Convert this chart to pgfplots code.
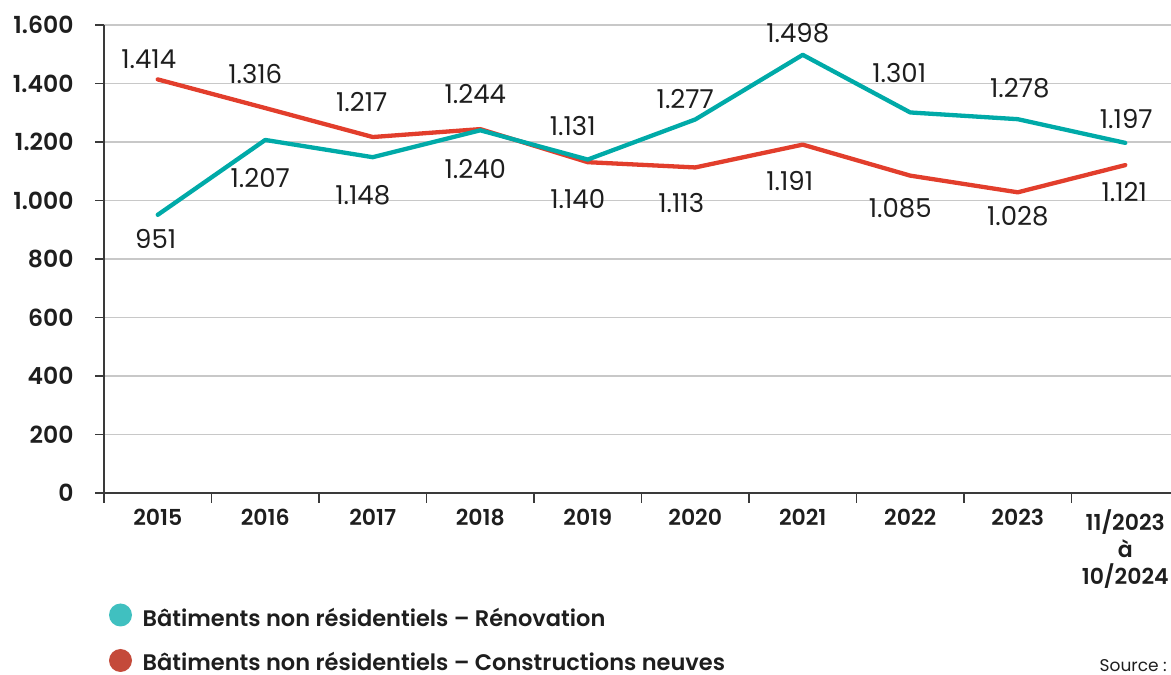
\documentclass[border=0pt]{standalone}
\usepackage{fontspec}
\setmainfont{Poppins}[BoldFont={Poppins SemiBold}]
\usepackage{pgfplots}
\pgfplotsset{compat=1.18}
\usepackage{pgfplotstable}

\definecolor{tealline}{RGB}{0,170,168}
\definecolor{redline}{RGB}{226,62,44}
\definecolor{tealdot}{RGB}{64,192,192}
\definecolor{reddot}{RGB}{196,74,58}
\definecolor{gridgray}{RGB}{200,200,200}
\definecolor{axisgray}{RGB}{58,58,58}
\definecolor{txt}{RGB}{30,30,30}

\pgfplotstableread{
x y dx dy lab
0 1414 -9 20.5 1.414
1 1316 -10 34.5 1.316
2 1217 -11 35 1.217
3 1244 -5 35 1.244
4 1131 -15 36 1.131
5 1113 -14 -36 1.113
6 1191 -13 -36 1.191
7 1085 -10 -33 1.085
8 1028 0 -23.5 1.028
9 1121 -1 -27 1.121
}\redtab

\pgfplotstableread{
x y dx dy lab
0 951 -2 -24 951
1 1207 -5 -38 1.207
2 1148 -10 -38 1.148
3 1240 -5 -38.5 1.240
4 1140 -10 -39.5 1.140
5 1277 -10 20.5 1.277
6 1498 -5 21.5 1.498
7 1301 -11 39 1.301
8 1278 2 31 1.278
9 1197 1 24 1.197
}\tealtab

\newcommand\xtickfont{\fontsize{22}{27}\selectfont\bfseries}
\newcommand\ytickfont{\fontsize{23.5}{28}\selectfont\bfseries}
\newcommand\labfont{\fontsize{26}{30}\selectfont}
\newcommand\legfont{\fontsize{22.5}{26}\selectfont\bfseries}

\begin{document}
\begin{tikzpicture}[x=1pt,y=1pt]
\path[use as bounding box] (0,0) rectangle (1171,675);
\begin{axis}[
  at={(104pt,182pt)}, anchor=south west,
  scale only axis, width=1075pt, height=468pt,
  xmin=-0.5, xmax=9.5, ymin=0, ymax=1600,
  axis x line*=bottom, axis y line*=left,
  axis line style={-, draw=axisgray, line width=1.8pt},
  ytick={0,200,...,1600},
  yticklabels={0,200,400,600,800,1.000,1.200,1.400,1.600},
  xtick={0,...,9},
  xticklabels={2015,2016,2017,2018,2019,2020,2021,2022,2023,{11/2023\\à\\10/2024}},
  minor xtick={-0.5,0.5,...,9.5},
  tick align=outside,
  major tick length=9pt, minor tick length=10pt,
  major tick style={draw=axisgray, line width=1.6pt},
  minor tick style={draw=axisgray, line width=1.6pt},
  major x tick style={draw=none},
  ymajorgrids, major grid style={draw=gridgray, line width=1.6pt},
  x tick label style={font=\xtickfont, text=txt, anchor=north, align=center, yshift=-4pt},
  y tick label style={font=\ytickfont, text=txt, anchor=east, xshift=-18pt},
  clip=false,
  every node near coord/.append style={font=\labfont, text=txt, anchor=center, xshift=\dx pt, yshift=\dy pt},
]
\addplot[redline, line width=4.3pt, line join=round, line cap=round,
  nodes near coords, point meta=explicit symbolic,
  visualization depends on={\thisrow{dx}\as\dx},
  visualization depends on={\thisrow{dy}\as\dy}]
  table[x=x, y=y, meta=lab] {\redtab};
\addplot[tealline, line width=4.3pt, line join=round, line cap=round,
  nodes near coords, point meta=explicit symbolic,
  visualization depends on={\thisrow{dx}\as\dx},
  visualization depends on={\thisrow{dy}\as\dy}]
  table[x=x, y=y, meta=lab] {\tealtab};
\end{axis}
\fill[tealdot] (120.5,60) circle (11.5);
\fill[reddot] (120.5,14.5) circle (11.5);
\node[anchor=base west, inner sep=0pt, text=txt, font=\legfont] at (142.5,48) {Bâtiments non résidentiels – Rénovation};
\node[anchor=base west, inner sep=0pt, text=txt, font=\legfont] at (142.5,4) {Bâtiments non résidentiels – Constructions neuves};
\node[anchor=base east, inner sep=0pt, text=txt, font=\fontsize{17}{20}\selectfont] at (1167,3) {Source :};
\end{tikzpicture}
\end{document}
